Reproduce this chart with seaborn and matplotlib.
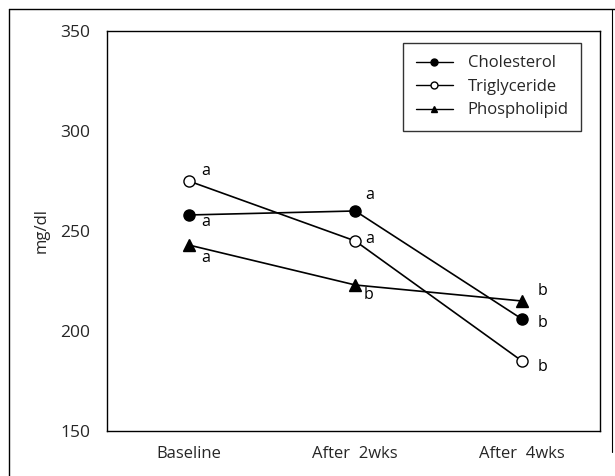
import pandas as pd
import matplotlib.pyplot as plt
import matplotlib.lines as mlines
import seaborn as sns

# Data
periods = ["Baseline", "After  2wks", "After  4wks"]
cholesterol = [258, 260, 206]
triglyceride = [275, 245, 185]
phospholipid = [243, 223, 215]

# significance letters per point
chol_letters = ["a", "a", "b"]
trig_letters = ["a", "a", "b"]
phos_letters = ["a", "b", "b"]

sns.set_theme(style="white")
plt.rcParams['font.family'] = ['Open Sans', 'DejaVu Sans']

series = {
    "Cholesterol": (cholesterol, chol_letters),
    "Triglyceride": (triglyceride, trig_letters),
    "Phospholipid": (phospholipid, phos_letters),
}

rows = []
for name, (vals, _) in series.items():
    for i, v in enumerate(vals):
        rows.append({"pos": i, "value": v, "series": name})
df = pd.DataFrame(rows)

fig = plt.figure(figsize=(6.15, 4.76), dpi=100)
ax = fig.add_axes([0.174, 0.0945, 0.802, 0.8405])

# marker style per series
styles = {
    "Cholesterol": dict(marker="o", markerfacecolor="black", markersize=8),
    "Triglyceride": dict(marker="o", markerfacecolor="white", markersize=8),
    "Phospholipid": dict(marker="^", markerfacecolor="black", markersize=8.5),
}

for name in series:
    sub = df[df["series"] == name]
    sns.lineplot(data=sub, x="pos", y="value", ax=ax, color="black",
                 linewidth=1.2, markeredgecolor="black", markeredgewidth=1.0,
                 legend=False, **styles[name])

# letter offsets in pixels (dx, dy)
offsets = {
    "Cholesterol": [(17, -7), (14, 16), (21, -4)],
    "Triglyceride": [(17, 10), (14, 2), (21, -6)],
    "Phospholipid": [(17, -13), (13, -10), (21, 10)],
}
for name, (vals, letters) in series.items():
    for i, (v, lt) in enumerate(zip(vals, letters)):
        ax.annotate(lt, (i, v), xytext=offsets[name][i], textcoords="offset pixels",
                    ha="center", va="center", fontsize=11.5, color="black")

ax.set_xlim(-0.49, 2.47)
ax.set_ylim(150, 350)
ax.set_xticks(range(len(periods)))
ax.set_xticklabels(periods, fontsize=12)
ax.set_yticks([150, 200, 250, 300, 350])
ax.tick_params(axis="y", direction="in", length=5, width=1, labelsize=12.5, pad=12)
ax.tick_params(axis="x", length=0, pad=11)
ax.set_xlabel("")
ax.set_ylabel("mg/dl", fontsize=12, labelpad=8)
for sp in ax.spines.values():
    sp.set_color("black")
    sp.set_linewidth(1.0)

handles = [
    mlines.Line2D([], [], color="black", lw=1.0, marker="o", markersize=5,
                  markerfacecolor="black", markeredgecolor="black", label="Cholesterol"),
    mlines.Line2D([], [], color="black", lw=1.0, marker="o", markersize=5,
                  markerfacecolor="white", markeredgecolor="black", label="Triglyceride"),
    mlines.Line2D([], [], color="black", lw=1.0, marker="^", markersize=5,
                  markerfacecolor="black", markeredgecolor="black", label="Phospholipid"),
]
leg = ax.legend(handles=handles, loc="upper right", bbox_to_anchor=(0.961, 0.97),
                borderaxespad=0, fancybox=False, frameon=True, fontsize=12,
                handlelength=2.2, handletextpad=0.9, labelspacing=0.45,
                borderpad=0.75)
leg.get_frame().set_edgecolor("black")
leg.get_frame().set_linewidth(1.0)

# outer frame of the scanned figure
fig.add_artist(mlines.Line2D([9 / 615, 9 / 615], [0, 1 - 9 / 476], color="black", lw=1.0))
fig.add_artist(mlines.Line2D([9 / 615, 1], [1 - 9 / 476, 1 - 9 / 476], color="black", lw=1.0))
fig.add_artist(mlines.Line2D([612 / 615, 612 / 615], [0.05, 1 - 9 / 476], color="black", lw=0.8))

fig.savefig("out.png", dpi=100)
